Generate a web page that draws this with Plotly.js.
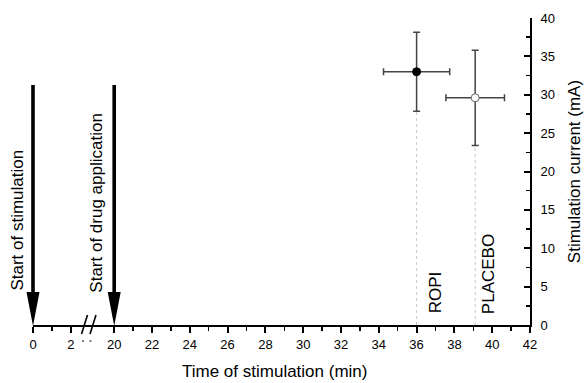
<!DOCTYPE html>
<html>
<head>
<meta charset="utf-8">
<script src="https://cdn.plot.ly/plotly-3.0.1.min.js"></script>
<style>html,body{margin:0;padding:0;background:#fff;}#chart{width:587px;height:383px;}</style>
</head>
<body>
<div id="chart"></div>
<script>
// ---- data ----
var groups = ["ROPI", "PLACEBO"];
var groupTime = [36, 39.1];          // min
var groupTimeErr = [1.75, 1.55];     // min
var groupCurrent = [33.0, 29.6];     // mA
var groupCurrentErr = [5.15, 6.2];   // mA
var eventTimes = [0, 20];
var eventLabels = ["Start of stimulation", "Start of drug application"];
var xTicksLow = [0, 2];
var xMinorLow = [1];
var xTicksHigh = [20, 22, 24, 26, 28, 30, 32, 34, 36, 38, 40, 42];
var xMinorHigh = [21, 23, 25, 27, 29, 31, 33, 35, 37, 39, 41];
var yTicks = [0, 5, 10, 15, 20, 25, 30, 35, 40];

var font = "Arial, 'Liberation Sans', sans-serif";

// ---- broken x axis geometry ----
var W = 497, H = 307;
var breakPx = 93;
var d = (breakPx - 33) / W;
var pxPerMin = 18.9;
var range1 = [0, (breakPx - 33) / pxPerMin];
var range2 = [42 - (530 - breakPx) / pxPerMin, 42];
function timeToPaper(t) {
  if (t <= range1[1]) return (t - range1[0]) / (range1[1] - range1[0]) * d;
  return d + (t - range2[0]) / (range2[1] - range2[0]) * (1 - d);
}

var traces = [];
// invisible trace keeping the left (pre-break) axis segment alive
traces.push({
  x: [eventTimes[0]], y: [0], xaxis: "x", yaxis: "y", mode: "markers",
  marker: {opacity: 0}, hoverinfo: "skip"
});
// dotted drop lines from lower error to axis
for (var i = 0; i < groups.length; i++) {
  traces.push({
    x: [groupTime[i], groupTime[i]],
    y: [0, groupCurrent[i] - groupCurrentErr[i]],
    xaxis: "x2", yaxis: "y", mode: "lines",
    line: {color: "#c8c8c8", width: 1, dash: "dot"},
    hoverinfo: "skip"
  });
}
// points with error bars
var mk = [
  {size: 8, color: "#000", line: {color: "#000", width: 1}},
  {size: 8, color: "#fff", line: {color: "#666", width: 1}}
];
for (var j = 0; j < groups.length; j++) {
  traces.push({
    x: [groupTime[j]], y: [groupCurrent[j]], name: groups[j],
    xaxis: "x2", yaxis: "y", mode: "markers",
    marker: mk[j],
    error_y: {type: "data", array: [groupCurrentErr[j]], color: "#444", thickness: 1.5, width: 3.5},
    error_x: {type: "data", array: [groupTimeErr[j]], color: "#444", thickness: 1.5, width: 3.5}
  });
}

var annotations = [];
var evShift = [-15, -17.5];
var evY = [13.6, 15.9];
for (var k = 0; k < eventTimes.length; k++) {
  annotations.push({
    xref: "paper", yref: "y", x: timeToPaper(eventTimes[k]), y: evY[k], xshift: evShift[k],
    text: eventLabels[k], textangle: -90, showarrow: false,
    xanchor: "center", yanchor: "middle",
    font: {family: font, size: 17, color: "#000"}
  });
}
var gShift = [19, 14];
var gY = [4.2, 6.65];
for (var m = 0; m < groups.length; m++) {
  annotations.push({
    xref: "x2", yref: "y", x: groupTime[m], y: gY[m], xshift: gShift[m],
    text: groups[m], textangle: -90, showarrow: false,
    xanchor: "center", yanchor: "middle",
    font: {family: font, size: 17, color: "#000"}
  });
}
annotations.push({
  xref: "paper", yref: "paper", x: (274 - 33) / W, y: (325 - 371) / H,
  text: "Time of stimulation (min)", showarrow: false,
  xanchor: "center", yanchor: "middle",
  font: {family: font, size: 17, color: "#000"}
});

// arrows (pixel-sized paths anchored at event time, axis baseline)
var arrowPath = "M-1.8,240 L1.8,240 L1.8,33 L6.5,33 L0,-1 L-6.5,33 L-1.8,33 Z";
var shapes = [];
for (var a = 0; a < eventTimes.length; a++) {
  shapes.push({
    type: "path", xref: "paper", yref: "paper",
    xsizemode: "pixel", ysizemode: "pixel",
    xanchor: timeToPaper(eventTimes[a]), yanchor: 0,
    path: arrowPath, fillcolor: "#000", line: {width: 0}
  });
}
// axis break marks
function px(p) { return (p - 33) / W; }
function py(p) { return (325 - p) / H; }
shapes.push({type: "line", xref: "paper", yref: "paper", x0: px(81.5), y0: py(334), x1: px(87.5), y1: py(315), line: {color: "#000", width: 1.6}});
shapes.push({type: "line", xref: "paper", yref: "paper", x0: px(90), y0: py(334), x1: px(96), y1: py(315), line: {color: "#000", width: 1.6}});
shapes.push({type: "line", xref: "paper", yref: "paper", x0: px(82), y0: py(341), x1: px(84), y1: py(341), line: {color: "#000", width: 1}});
shapes.push({type: "line", xref: "paper", yref: "paper", x0: px(89.5), y0: py(341), x1: px(91.5), y1: py(341), line: {color: "#000", width: 1}});

var axCommon = {
  showgrid: false, zeroline: false, showline: true, linecolor: "#000", linewidth: 2,
  ticks: "outside", ticklen: 6, tickwidth: 2, tickcolor: "#000",
  tickfont: {family: font, size: 13, color: "#000"},
  tickmode: "array", fixedrange: true
};

var layout = {
  width: 587, height: 383,
  margin: {l: 33, r: 57, t: 18, b: 58},
  paper_bgcolor: "#fff", plot_bgcolor: "#fff",
  showlegend: false,
  xaxis: Object.assign({}, axCommon, {
    domain: [0, d], range: range1, anchor: "y",
    tickvals: xTicksLow, ticktext: xTicksLow.map(String),
    minor: {tickmode: "array", tickvals: xMinorLow, ticks: "outside", ticklen: 4, tickwidth: 1.5, tickcolor: "#000"}
  }),
  xaxis2: Object.assign({}, axCommon, {
    domain: [d, 1], range: range2, anchor: "y",
    tickvals: xTicksHigh, ticktext: xTicksHigh.map(String),
    minor: {tickmode: "array", tickvals: xMinorHigh, ticks: "outside", ticklen: 4, tickwidth: 1.5, tickcolor: "#000"}
  }),
  yaxis: {
    side: "right", anchor: "x2", range: [0, 40], showgrid: false, zeroline: false,
    showline: true, linecolor: "#000", linewidth: 2,
    ticks: "inside", ticklen: 6, tickwidth: 2, tickcolor: "#000",
    tickmode: "array", tickvals: yTicks, ticktext: yTicks.map(String),
    tickfont: {family: font, size: 13, color: "#000"},
    ticklabelstandoff: 6,
    minor: {dtick: 2.5, ticks: "inside", ticklen: 4, tickwidth: 1.5, tickcolor: "#000"},
    title: {text: "Stimulation current (mA)", font: {family: font, size: 17, color: "#000"}, standoff: 14},
    fixedrange: true
  },
  annotations: annotations,
  shapes: shapes
};

Plotly.newPlot("chart", traces, layout, {displayModeBar: false, staticPlot: true});
</script>
</body>
</html>
